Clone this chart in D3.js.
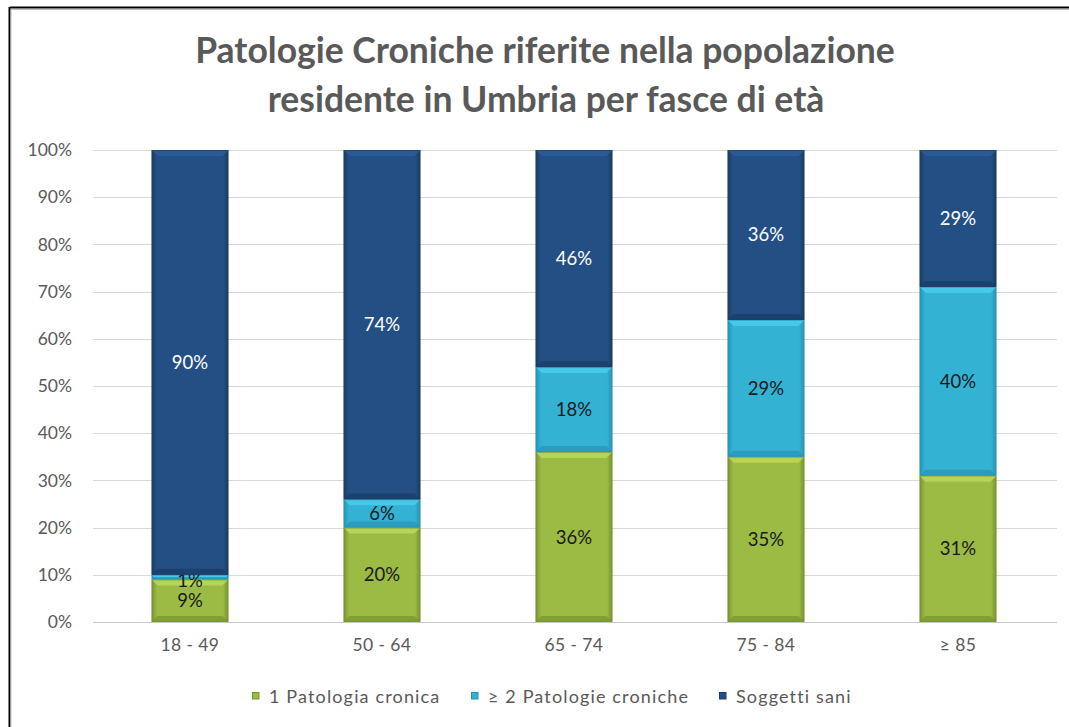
<!DOCTYPE html>
<html>
<head>
<meta charset="utf-8">
<script src="https://cdn.jsdelivr.net/npm/d3@7"></script>
<style>
  body { margin: 0; background: #fff; }
  svg { display: block; font-family: Lato, "Open Sans", sans-serif; }
</style>
</head>
<body>
<svg id="chart" width="1069" height="727"></svg>
<script>
// data
const categories = ["18 - 49", "50 - 64", "65 - 74", "75 - 84", "\u2265 85"];
const seriesNames = ["1 Patologia cronica", "\u2265 2 Patologie croniche", "Soggetti sani"];
const unaPatologia = [9, 20, 36, 35, 31];
const duePatologie = [1, 6, 18, 29, 40];
const soggettiSani = [90, 74, 46, 36, 29];
const yTicks = [0, 10, 20, 30, 40, 50, 60, 70, 80, 90, 100];

const colors = [
  { base: "#9bbb45", light: "#b6d35a", dark: "#76932f", label: "#1a1a1a" },
  { base: "#33b2d4", light: "#46c8e8", dark: "#2893b3", label: "#1a1a1a" },
  { base: "#244f84", light: "#2a5a92", dark: "#1b3c66", label: "#ffffff" }
];

const svg = d3.select("#chart");
const W = 1069, H = 727;
const margin = { top: 150, right: 15, bottom: 105, left: 94 };
const plotW = 960, plotH = 472;

// frame (left + top edge visible)
svg.append("line").attr("x1", 10).attr("x2", W).attr("y1", 7.5).attr("y2", 7.5)
  .attr("stroke", "#000").attr("stroke-width", 2);
svg.append("line").attr("x1", 10).attr("x2", W).attr("y1", 9.5).attr("y2", 9.5)
  .attr("stroke", "#bbb").attr("stroke-width", 1);
svg.append("line").attr("x1", 9.5).attr("x2", 9.5).attr("y1", 7).attr("y2", H)
  .attr("stroke", "#000").attr("stroke-width", 2);
svg.append("line").attr("x1", 11).attr("x2", 11).attr("y1", 9).attr("y2", H)
  .attr("stroke", "#bbb").attr("stroke-width", 1);

// title
const title = svg.append("text")
  .attr("text-anchor", "middle")
  .style("font-size", "35.5px").style("font-weight", "bold")
  .style("fill", "#595959");
title.append("tspan").attr("x", 545).attr("y", 63).text("Patologie Croniche riferite nella popolazione");
title.append("tspan").attr("x", 546).attr("y", 112).text("residente in Umbria per fasce di et\u00e0");

const g = svg.append("g").attr("transform", `translate(${margin.left},${margin.top})`);

const x = d3.scaleBand().domain(categories).range([0, plotW]).paddingInner(0.6).paddingOuter(0.3);
const y = d3.scaleLinear().domain([0, 100]).range([plotH, 0]);

// gridlines
g.selectAll(".grid").data(yTicks).enter().append("line")
  .attr("x1", -1).attr("x2", plotW + 3)
  .attr("y1", d => Math.round(y(d)) + 0.5).attr("y2", d => Math.round(y(d)) + 0.5)
  .attr("stroke", d => d === 0 ? "#c8c8c8" : "#d9d9d9").attr("stroke-width", 1.2);

// y axis
const yAxis = d3.axisLeft(y).tickValues(yTicks).tickFormat(d => d + "%").tickSize(0).tickPadding(22);
g.append("g").call(yAxis).call(s => s.select(".domain").remove())
  .selectAll("text").style("font-size", "17.5px").style("fill", "#595959").style("font-family", "Lato, sans-serif");

// x axis
const xAxis = d3.axisBottom(x).tickSize(0).tickPadding(17);
g.append("g").attr("transform", `translate(0,${plotH})`).call(xAxis)
  .call(s => s.select(".domain").remove())
  .selectAll("text").style("font-size", "17.5px").style("fill", "#595959").style("font-family", "Lato, sans-serif")
  .style("letter-spacing", "0.4px");

// gradients
const defs = svg.append("defs");
colors.forEach((c, i) => {
  const gr = defs.append("linearGradient").attr("id", "grad" + i)
    .attr("x1", 0).attr("x2", 1).attr("y1", 0).attr("y2", 0);
  gr.append("stop").attr("offset", "0%").attr("stop-color", c.dark);
  gr.append("stop").attr("offset", "7%").attr("stop-color", c.base);
  gr.append("stop").attr("offset", "93%").attr("stop-color", c.base);
  gr.append("stop").attr("offset", "100%").attr("stop-color", c.dark);
});

// stack
const rows = categories.map((cat, i) => ({ cat, s0: unaPatologia[i], s1: duePatologie[i], s2: soggettiSani[i] }));
const stack = d3.stack().keys(["s0", "s1", "s2"])(rows);

stack.forEach((layer, li) => {
  const c = colors[li];
  const lg = g.append("g");
  layer.forEach(seg => {
    const x0 = x(seg.data.cat), bw = x.bandwidth();
    const yt = y(seg[1]), yb = y(seg[0]);
    const h = yb - yt;
    const bev = Math.min(6, h / 2);
    lg.append("rect").attr("x", x0).attr("y", yt).attr("width", bw).attr("height", h)
      .attr("fill", `url(#grad${li})`);
    // top bevel
    lg.append("path")
      .attr("d", `M${x0},${yt} L${x0 + bw},${yt} L${x0 + bw - bev},${yt + bev} L${x0 + bev},${yt + bev} Z`)
      .attr("fill", c.light);
    // bottom bevel
    lg.append("path")
      .attr("d", `M${x0},${yb} L${x0 + bw},${yb} L${x0 + bw - bev},${yb - bev} L${x0 + bev},${yb - bev} Z`)
      .attr("fill", c.dark).attr("fill-opacity", 0.7);
    lg.append("rect").attr("x", x0 + 0.5).attr("y", yt + 0.5).attr("width", bw - 1).attr("height", Math.max(0, h - 1))
      .attr("fill", "none").attr("stroke", c.dark).attr("stroke-opacity", 0.6);
    // label
    const ly = li === 1 && seg.data.s1 < 3 ? yt + 6 : (yt + yb) / 2;
    lg.append("text")
      .attr("x", x0 + bw / 2).attr("y", ly).attr("dy", "0.35em")
      .attr("text-anchor", "middle")
      .style("font-size", "18.5px").style("fill", c.label)
      .text((seg[1] - seg[0]) + "%");
  });
});

// legend
const legendX = [252, 471, 719];
const leg = svg.append("g");
seriesNames.forEach((name, i) => {
  const c = colors[i];
  leg.append("rect").attr("x", legendX[i] + 0.5).attr("y", 692.5).attr("width", 6.5).attr("height", 6.5)
    .attr("fill", c.base).attr("stroke", c.dark);
  leg.append("text").attr("x", legendX[i] + 17).attr("y", 697).attr("dy", "0.35em")
    .style("font-size", "18px").style("letter-spacing", "1.15px")
    .style("fill", "#595959").text(name);
});
</script>
</body>
</html>
